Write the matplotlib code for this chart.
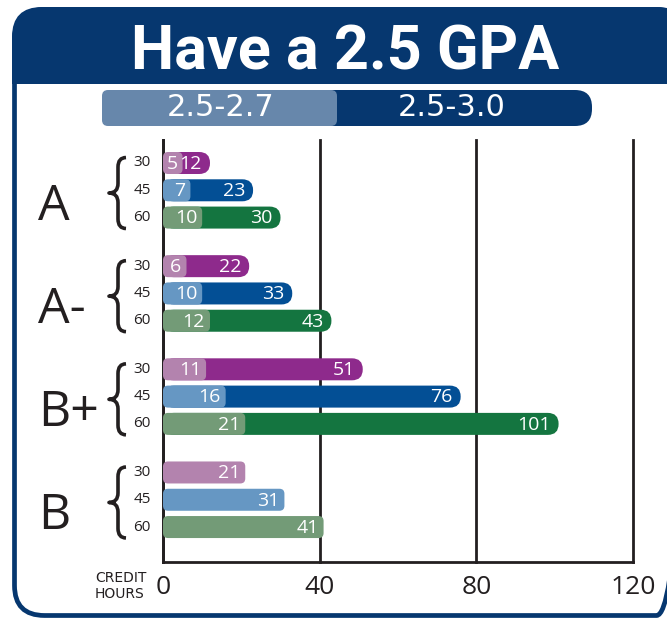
import matplotlib
matplotlib.use("Agg")
import matplotlib.pyplot as plt
from matplotlib.patches import FancyBboxPatch, Rectangle, PathPatch
from matplotlib.path import Path
import matplotlib.transforms as mtransforms

# ---------------- data ----------------
title = "Have a 2.5 GPA"
legend_labels = ["2.5-2.7", "2.5-3.0"]
grades = ["A", "A-", "B+", "B"]
credit_hours = ["30", "45", "60"]
gpa_25_27 = [[5, 7, 10], [6, 10, 12], [11, 16, 21], [21, 31, 41]]
gpa_25_30 = [[12, 23, 30], [22, 33, 43], [51, 76, 101], [None, None, None]]
x_ticks = [0, 40, 80, 120]
axis_label = ["CREDIT", "HOURS"]

# ---------------- style ----------------
NAVY = "#06376F"
LEG_LIGHT = "#6787AB"
INK = "#231F20"
dark_colors = ["#8E2A8C", "#034F95", "#147540"]
light_colors = ["#B383AE", "#6697C3", "#739B77"]

W, H = 667, 621
fig = plt.figure(figsize=(W / 100, H / 100), dpi=100)

# background / decoration axes in pixel coords
bg = fig.add_axes([0, 0, 1, 1])
bg.set_xlim(0, W)
bg.set_ylim(H, 0)
bg.axis("off")

# banner (rounded top, square bottom)
banner = FancyBboxPatch((12, 7), 675, 140, boxstyle="round,pad=0,rounding_size=30",
                        facecolor=NAVY, edgecolor="none", zorder=1)
bg.add_patch(banner)
clip_rect = Rectangle((0, 0), W, 84, transform=bg.transData)
banner.set_clip_path(clip_rect)

# frame
frame = FancyBboxPatch((14.5, 9.5), 672, 606, boxstyle="round,pad=0,rounding_size=30",
                       facecolor="none", edgecolor=NAVY, linewidth=3.4, zorder=2)
bg.add_patch(frame)

# title
bg.text(345, 70, title, color="white", fontsize=44, fontweight="bold",
        family="Roboto", ha="center", va="baseline", zorder=3)

# legend bar
bg.add_patch(FancyBboxPatch((102, 90), 490, 36, boxstyle="round,pad=0,rounding_size=17",
                            facecolor=NAVY, edgecolor="none", zorder=3))
bg.add_patch(FancyBboxPatch((102, 90), 235, 36, boxstyle="round,pad=0,rounding_size=6",
                            facecolor=LEG_LIGHT, edgecolor="none", zorder=4))
bg.text(221, 108, legend_labels[0], color="white", fontsize=22,
        family="Liberation Sans Narrow", ha="center", va="center", zorder=5)
bg.text(452, 108, legend_labels[1], color="white", fontsize=22,
        family="Liberation Sans Narrow", ha="center", va="center", zorder=5)

# credit hours label
bg.text(95, 578, axis_label[0], color=INK, fontsize=10, family="Liberation Sans Narrow",
        ha="left", va="center")
bg.text(95, 594, axis_label[1], color=INK, fontsize=10, family="Liberation Sans Narrow",
        ha="left", va="center")

# ---------------- data axes ----------------
x0p, x1p, y_top, y_bot = 163, 633, 140, 562
ax = fig.add_axes([x0p / W, (H - y_bot) / H, (x1p - x0p) / W, (y_bot - y_top) / H])
ax.patch.set_alpha(0)

GROUP_STEP = 3.78
unit_px = 27.29
ax.set_xlim(0, 120)
ax.set_ylim((y_bot - 163) / unit_px, -(163 - y_top) / unit_px)

x_per_px = 120 / (x1p - x0p)
y_per_px = 1 / unit_px
aspect = y_per_px / x_per_px
bar_h = 22 * y_per_px


def rbar(x_end, yc, color, radius_px, z):
    p = FancyBboxPatch((0, yc - bar_h / 2), x_end, bar_h,
                       boxstyle=f"round,pad=0,rounding_size={radius_px * x_per_px}",
                       mutation_aspect=aspect, facecolor=color, edgecolor="none", zorder=z)
    ax.add_patch(p)


val_font = dict(family="Open Sans", fontsize=14, color="white", va="center", ha="right")

blend = mtransforms.blended_transform_factory(bg.transData, ax.transData)

for g, grade in enumerate(grades):
    for r, ch in enumerate(credit_hours):
        yc = g * GROUP_STEP + r
        dv = gpa_25_30[g][r]
        lv = gpa_25_27[g][r]
        if dv is not None:
            rbar(dv, yc, dark_colors[r], 10.8, 3)
            ax.text(dv - 8 * x_per_px, yc + 0.03, str(dv), zorder=6, **val_font)
        rbar(lv, yc, light_colors[r], 5, 4)
        ax.text(lv - 5 * x_per_px, yc + 0.03, str(lv), zorder=6, **val_font)
        # credit-hour label
        bg.text(151, yc, ch, transform=blend, ha="right", va="center",
                fontsize=11, family="Open Sans", color=INK)
    # grade letter
    bg.text(38, g * GROUP_STEP + 2 + 0.08, grade, transform=blend, ha="left",
            va="baseline", fontsize=36, family="Open Sans", color=INK)
    # brace
    t = g * GROUP_STEP - 0.2
    b = g * GROUP_STEP + 2 + 0.4
    m = (t + b) / 2
    k = 0.35
    xr, xs, xp = 126, 118, 109
    verts = [(xr, t), (xs, t), (xs, t + k),
             (xs, m - k),
             (xs, m), (xp, m),
             (xs, m), (xs, m + k),
             (xs, b - k),
             (xs, b), (xr, b)]
    codes = [Path.MOVETO, Path.CURVE3, Path.CURVE3,
             Path.LINETO,
             Path.CURVE3, Path.CURVE3,
             Path.CURVE3, Path.CURVE3,
             Path.LINETO,
             Path.CURVE3, Path.CURVE3]
    bg.add_patch(PathPatch(Path(verts, codes), transform=blend, facecolor="none",
                           edgecolor=INK, linewidth=2.6, capstyle="butt", joinstyle="round"))

ax.set_xticks(x_ticks)
ax.set_xticklabels([str(v) for v in x_ticks], family="Open Sans", fontsize=19, color=INK)
ax.set_yticks([])
ax.tick_params(axis="x", length=0, pad=9)
ax.grid(axis="x", color=INK, linewidth=2.0)
for gl in ax.get_xgridlines():
    gl.set_clip_on(False)
ax.set_axisbelow(True)
for s in ["top", "right"]:
    ax.spines[s].set_visible(False)
for s in ["left", "bottom"]:
    ax.spines[s].set_color(INK)
    ax.spines[s].set_linewidth(2.0)
    ax.spines[s].set_zorder(2)

fig.savefig("out.png", dpi=100)
